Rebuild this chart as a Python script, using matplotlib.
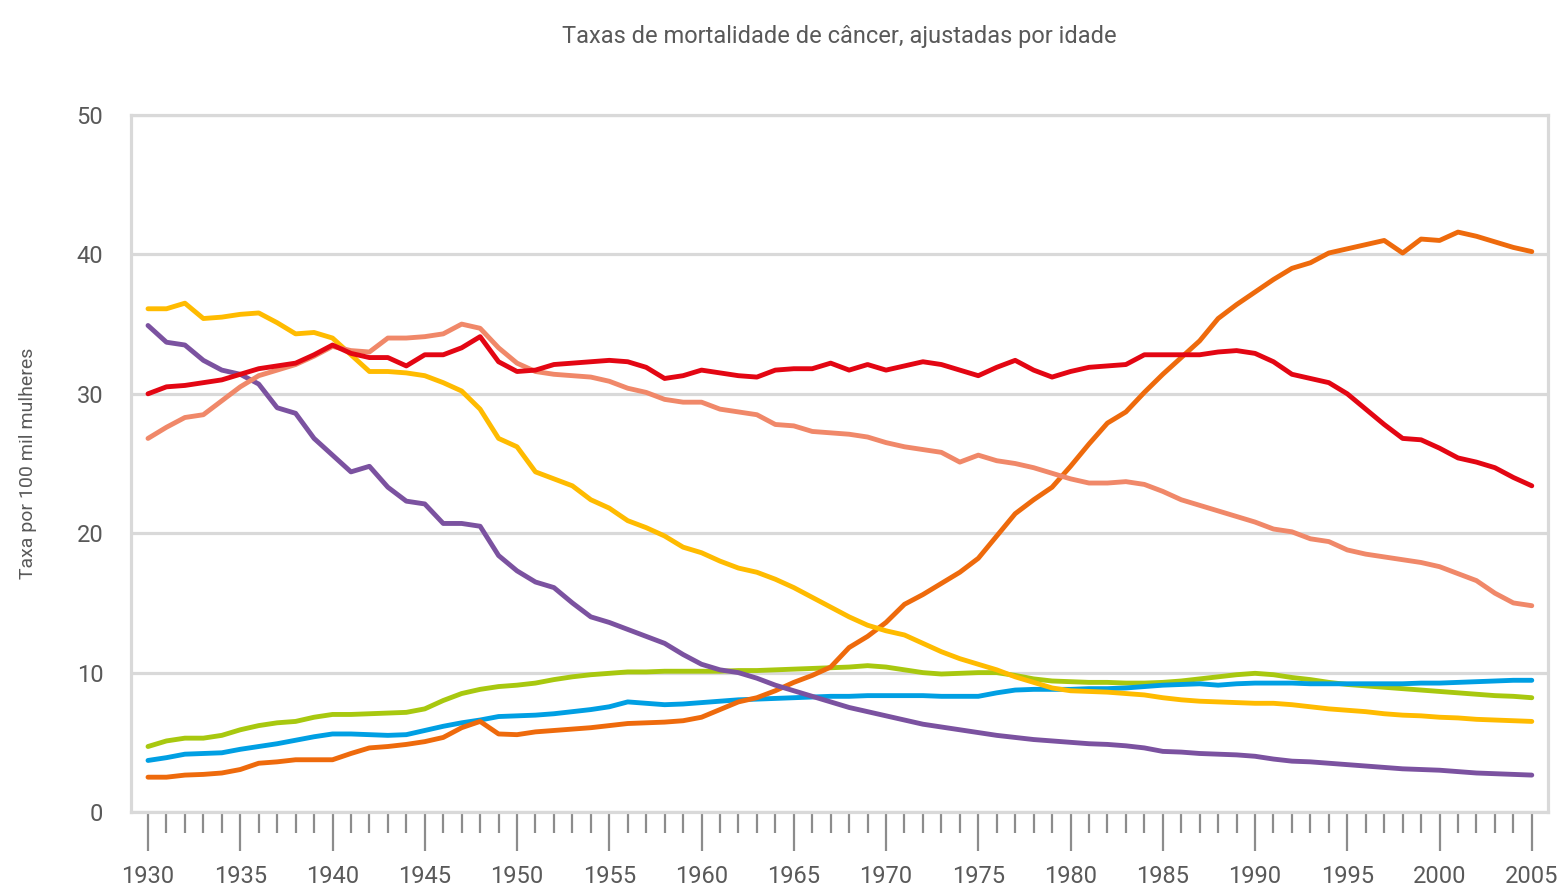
import numpy as np
import matplotlib
matplotlib.use("Agg")
import matplotlib.pyplot as plt
from matplotlib.ticker import MultipleLocator

plt.rcParams['font.family'] = ['Roboto', 'DejaVu Sans']

years = np.arange(1930, 2006)

red = [30.0, 30.5, 30.6, 30.8, 31.0, 31.4, 31.8, 32.0, 32.2, 32.8,
       33.5, 32.9, 32.6, 32.6, 32.0, 32.8, 32.8, 33.3, 34.1, 32.3,
       31.6, 31.7, 32.1, 32.2, 32.3, 32.4, 32.3, 31.9, 31.1, 31.3,
       31.7, 31.5, 31.3, 31.2, 31.7, 31.8, 31.8, 32.2, 31.7, 32.1,
       31.7, 32.0, 32.3, 32.1, 31.7, 31.3, 31.9, 32.4, 31.7, 31.2,
       31.6, 31.9, 32.0, 32.1, 32.8, 32.8, 32.8, 32.8, 33.0, 33.1,
       32.9, 32.3, 31.4, 31.1, 30.8, 30.0, 28.9, 27.8, 26.8, 26.7,
       26.1, 25.4, 25.1, 24.7, 24.0, 23.4]
salmon = [26.8, 27.6, 28.3, 28.5, 29.5, 30.5, 31.3, 31.7, 32.1, 32.7,
          33.4, 33.1, 33.0, 34.0, 34.0, 34.1, 34.3, 35.0, 34.7, 33.3,
          32.2, 31.6, 31.4, 31.3, 31.2, 30.9, 30.4, 30.1, 29.6, 29.4,
          29.4, 28.9, 28.7, 28.5, 27.8, 27.7, 27.3, 27.2, 27.1, 26.9,
          26.5, 26.2, 26.0, 25.8, 25.1, 25.6, 25.2, 25.0, 24.7, 24.3,
          23.9, 23.6, 23.6, 23.7, 23.5, 23.0, 22.4, 22.0, 21.6, 21.2,
          20.8, 20.3, 20.1, 19.6, 19.4, 18.8, 18.5, 18.3, 18.1, 17.9,
          17.6, 17.1, 16.6, 15.7, 15.0, 14.8]
yellow = [36.1, 36.1, 36.5, 35.4, 35.5, 35.7, 35.8, 35.1, 34.3, 34.4,
          34.0, 32.8, 31.6, 31.6, 31.5, 31.3, 30.8, 30.2, 28.9, 26.8,
          26.2, 24.4, 23.9, 23.4, 22.4, 21.8, 20.9, 20.4, 19.8, 19.0,
          18.6, 18.0, 17.5, 17.2, 16.7, 16.1, 15.4, 14.7, 14.0, 13.4,
          13.0, 12.7, 12.1, 11.5, 11.0, 10.6, 10.2, 9.7, 9.3, 8.9,
          8.7, 8.65, 8.6, 8.5, 8.4, 8.2, 8.05, 7.95, 7.9, 7.85,
          7.8, 7.8, 7.7, 7.55, 7.4, 7.3, 7.2, 7.05, 6.95, 6.9,
          6.8, 6.75, 6.65, 6.6, 6.55, 6.5]
purple = [34.9, 33.7, 33.5, 32.4, 31.7, 31.4, 30.7, 29.0, 28.6, 26.8,
          25.6, 24.4, 24.8, 23.3, 22.3, 22.1, 20.7, 20.7, 20.5, 18.4,
          17.3, 16.5, 16.1, 15.0, 14.0, 13.6, 13.1, 12.6, 12.1, 11.3,
          10.6, 10.2, 10.0, 9.6, 9.1, 8.7, 8.3, 7.9, 7.5, 7.2,
          6.9, 6.6, 6.3, 6.1, 5.9, 5.7, 5.5, 5.35, 5.2, 5.1,
          5.0, 4.9, 4.85, 4.75, 4.6, 4.35, 4.3, 4.2, 4.15, 4.1,
          4.0, 3.8, 3.65, 3.6, 3.5, 3.4, 3.3, 3.2, 3.1, 3.05,
          3.0, 2.9, 2.8, 2.75, 2.7, 2.65]
green = [4.7, 5.1, 5.3, 5.3, 5.5, 5.9, 6.2, 6.4, 6.5, 6.8,
         7.0, 7.0, 7.05, 7.1, 7.15, 7.4, 8.0, 8.5, 8.8, 9.0,
         9.1, 9.25, 9.5, 9.7, 9.85, 9.95, 10.05, 10.05, 10.1, 10.1,
         10.1, 10.1, 10.15, 10.15, 10.2, 10.25, 10.3, 10.35, 10.4, 10.5,
         10.4, 10.2, 10.0, 9.9, 9.95, 10.0, 10.0, 9.8, 9.55, 9.4,
         9.35, 9.3, 9.3, 9.25, 9.25, 9.3, 9.4, 9.55, 9.7, 9.85,
         9.95, 9.85, 9.65, 9.5, 9.3, 9.15, 9.05, 8.95, 8.85, 8.75,
         8.65, 8.55, 8.45, 8.35, 8.3, 8.2]
blue = [3.7, 3.9, 4.15, 4.2, 4.25, 4.5, 4.7, 4.9, 5.15, 5.4,
        5.6, 5.6, 5.55, 5.5, 5.55, 5.85, 6.15, 6.4, 6.6, 6.85,
        6.9, 6.95, 7.05, 7.2, 7.35, 7.55, 7.9, 7.8, 7.7, 7.75,
        7.85, 7.95, 8.05, 8.1, 8.15, 8.2, 8.25, 8.3, 8.3, 8.35,
        8.35, 8.35, 8.35, 8.3, 8.3, 8.3, 8.55, 8.75, 8.8, 8.8,
        8.8, 8.85, 8.85, 8.9, 9.0, 9.1, 9.15, 9.2, 9.1, 9.2,
        9.25, 9.25, 9.25, 9.2, 9.2, 9.2, 9.2, 9.2, 9.2, 9.25,
        9.25, 9.3, 9.35, 9.4, 9.45, 9.45]
orange = [2.5, 2.5, 2.65, 2.7, 2.8, 3.05, 3.5, 3.6, 3.75, 3.75,
          3.75, 4.2, 4.6, 4.7, 4.85, 5.05, 5.35, 6.05, 6.5, 5.6,
          5.55, 5.75, 5.85, 5.95, 6.05, 6.2, 6.35, 6.4, 6.45, 6.55,
          6.8, 7.35, 7.9, 8.2, 8.7, 9.3, 9.8, 10.4, 11.8, 12.6,
          13.6, 14.9, 15.6, 16.4, 17.2, 18.2, 19.8, 21.4, 22.4, 23.3,
          24.8, 26.4, 27.9, 28.7, 30.1, 31.4, 32.6, 33.8, 35.4, 36.4,
          37.3, 38.2, 39.0, 39.4, 40.1, 40.4, 40.7, 41.0, 40.1, 41.1,
          41.0, 41.6, 41.3, 40.9, 40.5, 40.2]

series = [
    (green, '#a8c80f'),
    (blue, '#009fe3'),
    (orange, '#ee6a0c'),
    (purple, '#7b52a0'),
    (yellow, '#ffbb00'),
    (salmon, '#f08869'),
    (red, '#e30613'),
]

fig = plt.figure(figsize=(15.58, 8.9), dpi=100)
ax = fig.add_axes([0.0841, 0.0876, 0.9095, 0.7832])

for vals, col in series:
    ax.plot(years, vals, color=col, lw=3.5, solid_joinstyle='round',
            solid_capstyle='round', zorder=3)

grid_col = '#d9d9d9'
ax.set_xlim(1929.08, 2005.88)
ax.set_ylim(0, 50)
ax.set_yticks(range(0, 51, 10))
ax.yaxis.grid(True, color=grid_col, lw=2.3, zorder=1)
ax.set_axisbelow(True)
for s in ax.spines.values():
    s.set_color(grid_col)
    s.set_linewidth(2.3)

ax.xaxis.set_major_locator(MultipleLocator(5))
ax.xaxis.set_minor_locator(MultipleLocator(1))
ax.set_xticks(range(1930, 2006, 5))
ax.tick_params(axis='x', which='major', length=28, width=1.6, color='#8c8c8c',
               labelsize=17, labelcolor='#595959', pad=10)
ax.tick_params(axis='x', which='minor', length=15, width=1.6, color='#8c8c8c')
ax.tick_params(axis='y', length=0, labelsize=17, labelcolor='#595959', pad=20)

ax.set_title('Taxas de mortalidade de câncer, ajustadas por idade',
             fontsize=17, color='#595959', pad=52)
fig.text(0.018, 0.479, 'Taxa por 100 mil mulheres', rotation=90,
         fontsize=14, color='#595959', ha='center', va='center')

plt.savefig('out.png', dpi=100)
